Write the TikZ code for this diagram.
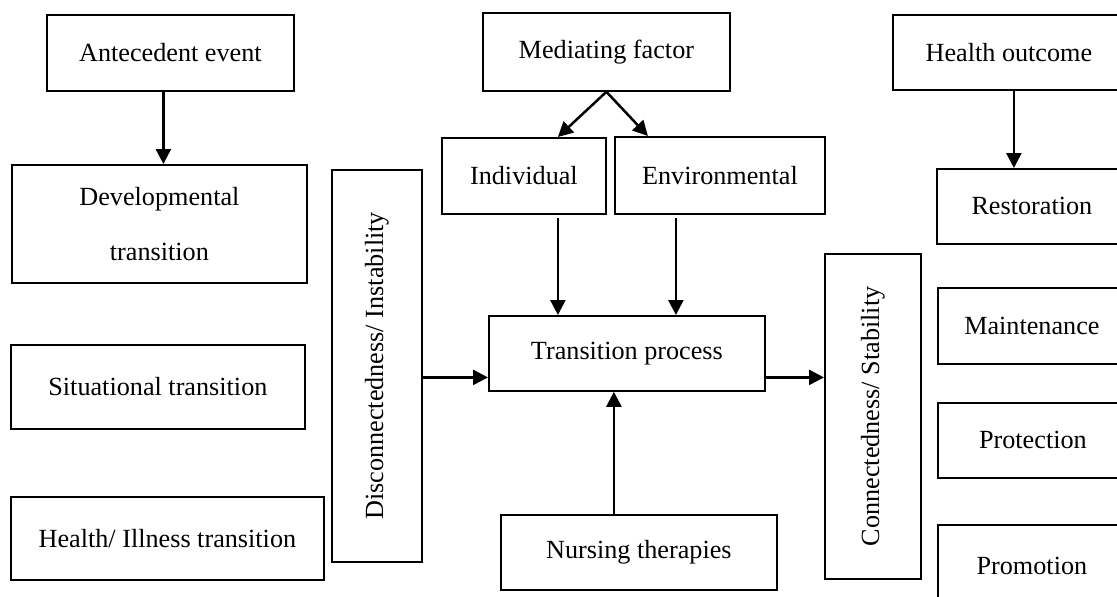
\documentclass[tikz,border=0pt]{standalone}
\usepackage{fontspec}
\setmainfont{Liberation Serif}
\usepackage{graphicx}
\usetikzlibrary{arrows.meta}
\begin{document}
\begin{tikzpicture}[x=1pt,y=-1pt,
  box/.style={draw, line width=1.8pt, inner sep=0pt, anchor=north west,
    font=\fontsize{26.2}{31}\selectfont, align=center},
  arr/.style={line width=2.5pt, -{Triangle[length=15pt,width=15pt]}}]
\useasboundingbox (0,0) rectangle (1117,597);
\clip (0,0) rectangle (1117,597);
% left column
\node[box, minimum width=247pt, minimum height=76pt] (ante) at (46,14) {Antecedent event};
\node[box, minimum width=295pt, minimum height=118pt] (dev) at (11,164) {Developmental\\[24pt]transition};
\node[box, minimum width=294pt, minimum height=84pt] (sit) at (10,344) {Situational transition};
\node[box, minimum width=313pt, minimum height=83pt] (hi) at (10,496) {Health/ Illness transition};
\node[box, minimum width=90pt, minimum height=392pt] (disc) at (331,169) {\rotatebox{90}{Disconnectedness/ Instability}};
% middle
\node[box, minimum width=247pt, minimum height=78pt] (med) at (482,12) {Mediating factor};
\node[box, minimum width=164pt, minimum height=76pt] (ind) at (441,137) {Individual};
\node[box, minimum width=210pt, minimum height=77pt] (env) at (614,136) {Environmental};
\node[box, minimum width=276pt, minimum height=75pt] (tp) at (488,315) {Transition process};
\node[box, minimum width=276pt, minimum height=75pt] (nt) at (500,514) {Nursing therapies};
% right
\node[box, minimum width=96pt, minimum height=325pt] (conn) at (824,253) {\rotatebox{90}{Connectedness/ Stability}};
\node[box, minimum width=232pt, minimum height=75pt] (ho) at (892,14) {Health outcome};
\node[box, minimum width=190pt, minimum height=75pt] (rest) at (936,168) {Restoration};
\node[box, minimum width=188pt, minimum height=76pt] (maint) at (937,287) {Maintenance};
\node[box, minimum width=190pt, minimum height=75pt] (prot) at (937,402) {Protection};
\node[box, minimum width=188pt, minimum height=82pt] (prom) at (937,524) {Promotion};
% coordinates
\coordinate (a1) at ([xshift=-7pt]ante.south);
\coordinate (mi) at ([xshift=34pt]ind.north);
\coordinate (me) at ([xshift=-72pt]env.north);
\coordinate (i1) at ([xshift=34pt,yshift=-3pt]ind.south);
\coordinate (e1) at ([xshift=-44pt,yshift=-3pt]env.south);
\coordinate (tpw) at ([yshift=-24pt]tp.west);
\coordinate (tpe) at ([yshift=-24pt]tp.east);
\coordinate (n1) at ([xshift=-25pt]nt.north);
\coordinate (h1) at ([xshift=5pt]ho.south);
% connectors
\draw[arr] (a1) -- (a1 |- dev.north);
\draw[arr] (med.south) -- (mi);
\draw[arr] (med.south) -- (me);
\draw[arr] (i1) -- (i1 |- tp.north);
\draw[arr] (e1) -- (e1 |- tp.north);
\draw[arr] (disc.east |- tpw) -- (tpw);
\draw[arr] (tpe) -- (tpe -| conn.west);
\draw[arr] (n1) -- (n1 |- tp.south);
\draw[arr] (h1) -- (h1 |- rest.north);
\end{tikzpicture}
\end{document}
